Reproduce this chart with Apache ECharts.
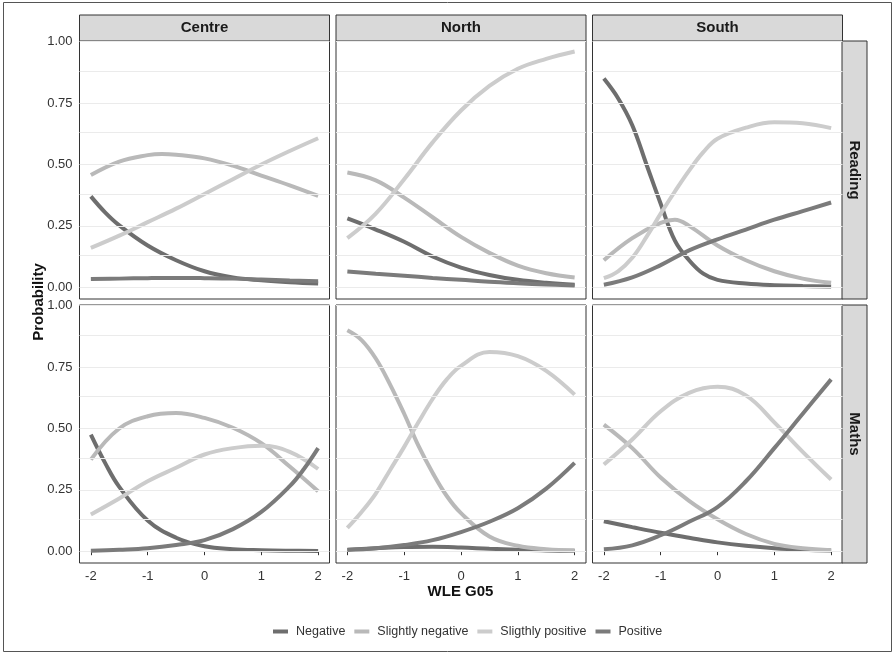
<!DOCTYPE html>
<html><head><meta charset="utf-8">
<script src="https://cdn.jsdelivr.net/npm/echarts@6/dist/echarts.min.js"></script>
<style>html,body{margin:0;padding:0;background:#fff}#c{width:894px;height:654px}</style>
</head><body><div id="c"></div>
<script>
// ---------- categories / labels ----------
const regions = ['Centre', 'North', 'South'];
const subjects = ['Reading', 'Maths'];
const categories = ['Negative', 'Slightly negative', 'Sligthly positive', 'Positive'];
const xTicks = [-2, -1, 0, 1, 2];
const yTicks = [0, 0.25, 0.5, 0.75, 1];
const yGridValues = [0, 0.125, 0.25, 0.375, 0.5, 0.625, 0.75, 0.875, 1];

// ---------- Reading ----------
const centreReadingNeg = [[-2,.37],[-1.75,.305],[-1.5,.252],[-1,.17],[-0.5,.11],[0,.065],[0.5,.04],[1,.028],[1.5,.02],[2,.015]];
const centreReadingSN  = [[-2,.457],[-1.5,.512],[-1,.538],[-0.75,.543],[-0.5,.54],[0,.525],[0.5,.495],[1,.455],[1.5,.415],[2,.372]];
const centreReadingSP  = [[-2,.16],[-1.5,.21],[-1,.265],[-0.5,.32],[0,.38],[0.5,.44],[1,.50],[1.5,.555],[2,.607]];
const centreReadingPos = [[-2,.033],[-1.5,.035],[-1,.037],[-0.5,.038],[0,.037],[0.5,.035],[1,.031],[1.5,.027],[2,.024]];

const northReadingNeg = [[-2,.28],[-1.5,.235],[-1,.185],[-0.5,.125],[0,.08],[0.5,.05],[1,.03],[1.5,.018],[2,.01]];
const northReadingSN  = [[-2,.467],[-1.5,.435],[-1,.365],[-0.5,.285],[0,.205],[0.5,.14],[1,.088],[1.5,.057],[2,.04]];
const northReadingSP  = [[-2,.20],[-1.5,.30],[-1,.44],[-0.5,.59],[0,.72],[0.5,.82],[1,.89],[1.5,.93],[2,.96]];
const northReadingPos = [[-2,.064],[-1.5,.055],[-1,.047],[-0.5,.038],[0,.03],[0.5,.022],[1,.016],[1.5,.011],[2,.007]];

const southReadingNeg = [[-2,.85],[-1.75,.77],[-1.5,.66],[-1.25,.50],[-1,.34],[-0.75,.19],[-0.5,.11],[-0.25,.055],[0,.03],[0.5,.015],[1,.008],[1.5,.005],[2,.003]];
const southReadingSN  = [[-2,.11],[-1.5,.20],[-1,.262],[-0.75,.275],[-0.5,.25],[0,.17],[0.5,.11],[1,.065],[1.5,.035],[2,.018]];
const southReadingSP  = [[-2,.037],[-1.75,.065],[-1.5,.12],[-1.25,.205],[-1,.30],[-0.75,.39],[-0.5,.475],[-0.25,.55],[0,.605],[0.5,.65],[1,.672],[1.5,.668],[2,.648]];
const southReadingPos = [[-2,.01],[-1.5,.04],[-1,.09],[-0.5,.15],[0,.195],[0.5,.235],[1,.275],[1.5,.31],[2,.345]];

// ---------- Maths ----------
const centreMathsNeg = [[-2,.475],[-1.75,.36],[-1.5,.262],[-1,.125],[-0.5,.055],[0,.02],[0.5,.008],[1,.004],[1.5,.002],[2,.001]];
const centreMathsSN  = [[-2,.373],[-1.5,.50],[-1,.55],[-0.5,.563],[0,.543],[0.5,.503],[1,.44],[1.5,.345],[2,.244]];
const centreMathsSP  = [[-2,.15],[-1.5,.215],[-1,.285],[-0.5,.34],[0,.394],[0.5,.42],[1,.43],[1.5,.405],[2,.335]];
const centreMathsPos = [[-2,.002],[-1.5,.006],[-1,.012],[-0.5,.025],[0,.045],[0.5,.09],[1,.16],[1.5,.265],[1.75,.335],[2,.42]];

const northMathsNeg = [[-2,.006],[-1.5,.012],[-1,.017],[-0.5,.018],[0,.015],[0.5,.01],[1,.006],[1.5,.003],[2,.002]];
const northMathsSN  = [[-2,.90],[-1.75,.86],[-1.5,.785],[-1.25,.68],[-1,.56],[-0.75,.43],[-0.5,.32],[-0.25,.225],[0,.155],[0.5,.06],[1,.022],[1.5,.008],[2,.003]];
const northMathsSP  = [[-2,.095],[-1.75,.16],[-1.5,.235],[-1.25,.33],[-1,.425],[-0.75,.525],[-0.5,.62],[-0.25,.70],[0,.755],[0.5,.812],[1,.795],[1.5,.735],[2,.638]];
const northMathsPos = [[-2,.005],[-1.5,.012],[-1,.025],[-0.5,.045],[0,.078],[0.5,.12],[1,.175],[1.5,.255],[2,.36]];

const southMathsNeg = [[-2,.122],[-1.5,.098],[-1,.075],[-0.5,.055],[0,.036],[0.5,.022],[1,.012],[1.5,.006],[2,.003]];
const southMathsSN  = [[-2,.516],[-1.5,.42],[-1,.30],[-0.5,.205],[0,.13],[0.5,.07],[1,.03],[1.5,.012],[2,.004]];
const southMathsSP  = [[-2,.353],[-1.5,.455],[-1,.57],[-0.5,.645],[0,.67],[0.5,.635],[1,.525],[1.5,.405],[2,.292]];
const southMathsPos = [[-2,.008],[-1.5,.024],[-1,.065],[-0.5,.12],[0,.18],[0.5,.285],[1,.42],[1.5,.56],[2,.70]];

const panelData = [
  [[centreReadingNeg, centreReadingSN, centreReadingSP, centreReadingPos],
   [northReadingNeg, northReadingSN, northReadingSP, northReadingPos],
   [southReadingNeg, southReadingSN, southReadingSP, southReadingPos]],
  [[centreMathsNeg, centreMathsSN, centreMathsSP, centreMathsPos],
   [northMathsNeg, northMathsSN, northMathsSP, northMathsPos],
   [southMathsNeg, southMathsSN, southMathsSP, southMathsPos]]
];

// ---------- layout / style ----------
const colors = ['#6e6e6e', '#b9b9b9', '#cccccc', '#7b7b7b'];
const colLeft = [79.5, 336, 592.5];
const rowTop = [41, 305];
const panelW = 250, panelH = 258;
const FONT = 'Liberation Sans, Arial, sans-serif';
const textCol = '#333';

const grids = [], xAxes = [], yAxes = [], series = [], graphics = [];
let gi = 0;
for (let r = 0; r < 2; r++) {
  for (let c = 0; c < 3; c++) {
    grids.push({ left: colLeft[c], top: rowTop[r], width: panelW, height: panelH,
      show: true, borderColor: '#333', borderWidth: 1, backgroundColor: '#fff' });
    xAxes.push({ type: 'value', gridIndex: gi, min: -2.2, max: 2.2,
      axisLine: { show: false }, splitLine: { show: false },
      axisTick: { show: r === 1, customValues: xTicks, length: 4, lineStyle: { color: '#333' } },
      axisLabel: { show: r === 1, customValues: xTicks, color: textCol, fontSize: 13, fontFamily: FONT, margin: 7 } });
    yAxes.push({ type: 'value', gridIndex: gi, min: -0.048, max: 1.003,
      axisLine: { show: false }, splitLine: { show: false },
      axisTick: { show: c === 0, customValues: yTicks, length: 4, lineStyle: { color: '#333' } },
      axisLabel: { show: c === 0, customValues: yTicks, color: textCol, fontSize: 13, fontFamily: FONT, margin: 7,
        formatter: v => Number(v).toFixed(2) } });
    // gridlines
    series.push({ name: 'grid' + gi, type: 'line', xAxisIndex: gi, yAxisIndex: gi, data: [], silent: true, z: 1,
      markLine: { silent: true, symbol: 'none', animation: false, label: { show: false },
        lineStyle: { color: '#ebebeb', width: 1, type: 'solid' },
        emphasis: { disabled: true },
        data: yGridValues.map(v => ({ yAxis: v })) } });
    for (let k = 0; k < 4; k++) {
      series.push({ name: categories[k], type: 'line', xAxisIndex: gi, yAxisIndex: gi,
        data: panelData[r][c][k], smooth: 0.4, showSymbol: false, z: 2 + k, animation: false,
        lineStyle: { width: 4, color: colors[k], cap: 'butt' }, itemStyle: { color: colors[k] } });
    }
    gi++;
  }
}

// strips
for (let c = 0; c < 3; c++) {
  graphics.push({ type: 'rect', shape: { x: colLeft[c], y: 15, width: panelW, height: 26 },
    style: { fill: '#d9d9d9', stroke: '#333', lineWidth: 1 } });
  graphics.push({ type: 'text', x: colLeft[c] + panelW / 2, y: 28,
    style: { text: regions[c], font: 'bold 15px ' + FONT, fill: '#1a1a1a', textAlign: 'center', textVerticalAlign: 'middle' } });
}
for (let r = 0; r < 2; r++) {
  graphics.push({ type: 'rect', shape: { x: 842, y: rowTop[r], width: 25, height: panelH },
    style: { fill: '#d9d9d9', stroke: '#333', lineWidth: 1 } });
  graphics.push({ type: 'text', x: 854.5, y: rowTop[r] + panelH / 2, rotation: -Math.PI / 2,
    style: { text: subjects[r], font: 'bold 15px ' + FONT, fill: '#1a1a1a', textAlign: 'center', textVerticalAlign: 'middle' } });
}
// axis titles
graphics.push({ type: 'text', x: 460.5, y: 592,
  style: { text: 'WLE G05', font: 'bold 15px ' + FONT, fill: '#111', textAlign: 'center', textVerticalAlign: 'middle' } });
graphics.push({ type: 'text', x: 39, y: 302, rotation: Math.PI / 2,
  style: { text: 'Probability', font: 'bold 15px ' + FONT, fill: '#111', textAlign: 'center', textVerticalAlign: 'middle' } });
// outer frame
graphics.push({ type: 'rect', z: -1, shape: { x: 3.5, y: 2.5, width: 888, height: 649 },
  style: { fill: 'none', stroke: '#555', lineWidth: 1 } });

const chart = echarts.init(document.getElementById('c'), null, { renderer: 'canvas' });
chart.setOption({
  backgroundColor: '#fff',
  animation: false,
  grid: grids, xAxis: xAxes, yAxis: yAxes, series: series,
  legend: { data: categories, left: 268, top: 620, icon: 'rect', itemWidth: 15, itemHeight: 4, itemGap: 9,
    textStyle: { color: textCol, fontSize: 12.5, fontFamily: FONT, padding: [0, 0, 0, 3] }, selectedMode: false },
  graphic: graphics
});
</script></body></html>
